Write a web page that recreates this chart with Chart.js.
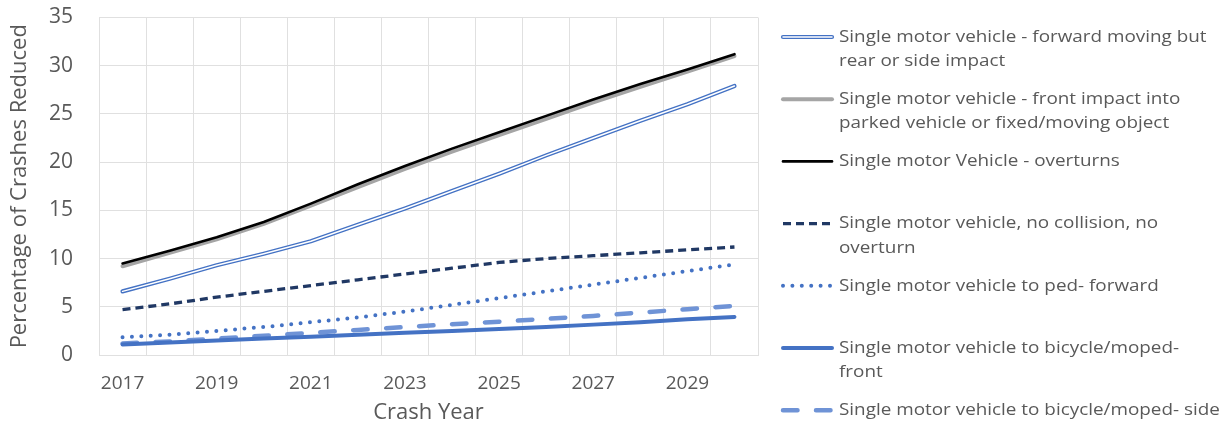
<!DOCTYPE html>
<html>
<head>
<meta charset="utf-8">
<script src="https://cdn.jsdelivr.net/npm/chart.js@4/dist/chart.umd.min.js"></script>
<style>
  html, body { margin: 0; padding: 0; background: #ffffff; }
  #wrap { width: 1232px; height: 430px; position: relative; }
</style>
</head>
<body>
<div id="wrap"><canvas id="c" width="1232" height="430"></canvas></div>
<script>
// Crash years on the horizontal axis
const years = ['2017', '2018', '2019', '2020', '2021', '2022', '2023', '2024', '2025', '2026', '2027', '2028', '2029', '2030'];

// Percentage of crashes reduced, one array per crash type
const forwardRearSide = [6.6, 7.9, 9.3, 10.5, 11.8, 13.5, 15.2, 17.0, 18.8, 20.7, 22.5, 24.3, 26.0, 27.9];
const frontImpact     = [9.2, 10.6, 12.0, 13.6, 15.5, 17.4, 19.3, 21.1, 22.8, 24.5, 26.2, 27.8, 29.4, 31.0];
const overturns       = [9.5, 10.8, 12.2, 13.8, 15.7, 17.7, 19.6, 21.4, 23.1, 24.8, 26.5, 28.1, 29.6, 31.2];
const noCollision     = [4.7, 5.3, 6.0, 6.6, 7.2, 7.8, 8.4, 9.0, 9.6, 10.0, 10.3, 10.6, 10.9, 11.2];
const pedForward      = [1.85, 2.1, 2.5, 2.9, 3.4, 3.9, 4.5, 5.2, 5.9, 6.6, 7.3, 8.0, 8.7, 9.4];
const bicycleFront    = [1.1, 1.3, 1.5, 1.7, 1.9, 2.1, 2.3, 2.5, 2.7, 2.9, 3.15, 3.4, 3.7, 3.95];
const bicycleSide     = [1.2, 1.4, 1.7, 2.0, 2.3, 2.6, 2.9, 3.2, 3.45, 3.75, 4.05, 4.4, 4.75, 5.1];

// Legend names, already broken into lines
const nameForwardRearSide = ['Single motor vehicle - forward moving but', 'rear or side impact'];
const nameFrontImpact     = ['Single motor vehicle - front impact into', 'parked vehicle or fixed/moving object'];
const nameOverturns       = ['Single motor Vehicle - overturns'];
const nameNoCollision     = ['Single motor vehicle, no collision, no', 'overturn'];
const namePedForward      = ['Single motor vehicle to ped- forward'];
const nameBicycleFront    = ['Single motor vehicle to bicycle/moped-', 'front'];
const nameBicycleSide     = ['Single motor vehicle to bicycle/moped- side'];

// Value axis
const yMin = 0, yMax = 35, yStep = 5;
const axisTitleY = 'Percentage of Crashes Reduced';
const axisTitleX = 'Crash Year';

const TEXT = '#595959';
const GRID = '#e0e0e0';
const FONT = "'Open Sans', 'Noto Sans', sans-serif";

const line = (extra) => Object.assign({
  type: 'line',
  pointRadius: 0,
  pointHoverRadius: 0,
  fill: false,
  tension: 0,
  borderJoinStyle: 'round',
  borderCapStyle: 'round'
}, extra);

const datasets = [
  // white core drawn on top of the blue stroke gives the double line
  line({ label: 'core', data: forwardRearSide, borderColor: '#ffffff', borderWidth: 1.5, order: 0, overlayFor: 1 }),
  line({ label: nameForwardRearSide.join(' '), legendLines: nameForwardRearSide, data: forwardRearSide, borderColor: '#4472c4', borderWidth: 4.2, order: 1 }),
  line({ label: nameFrontImpact.join(' '), legendLines: nameFrontImpact, data: frontImpact, borderColor: '#a5a5a5', borderWidth: 4, order: 3 }),
  line({ label: nameOverturns.join(' '), legendLines: nameOverturns, data: overturns, borderColor: '#000000', borderWidth: 2.6, order: 2 }),
  line({ label: nameNoCollision.join(' '), legendLines: nameNoCollision, data: noCollision, borderColor: '#203864', borderWidth: 3.3, borderDash: [8, 5], borderCapStyle: 'butt', order: 4 }),
  line({ label: namePedForward.join(' '), legendLines: namePedForward, data: pedForward, borderColor: '#4472c4', borderWidth: 4, borderDash: [0, 9.4], order: 5 }),
  line({ label: nameBicycleFront.join(' '), legendLines: nameBicycleFront, data: bicycleFront, borderColor: '#4472c4', borderWidth: 4, order: 6 }),
  line({ label: nameBicycleSide.join(' '), legendLines: nameBicycleSide, data: bicycleSide, borderColor: '#6f93d6', borderWidth: 4.5, borderDash: [14.5, 18.5], order: 7 })
];

// Legend at the right: one fixed-height row per series, swatch + wrapped name
const sideLegend = {
  id: 'sideLegend',
  afterDraw(chart, args, opts) {
    const ctx = chart.ctx;
    const all = chart.data.datasets;
    ctx.save();
    ctx.font = opts.fontSize + 'px ' + FONT;
    ctx.fillStyle = TEXT;
    ctx.textBaseline = 'middle';
    ctx.textAlign = 'left';
    let row = 0;
    const stroke = (ds, y) => {
      ctx.save();
      ctx.strokeStyle = ds.borderColor;
      ctx.lineWidth = ds.borderWidth;
      ctx.lineCap = ds.borderCapStyle || 'butt';
      ctx.setLineDash(ds.borderDash || []);
      ctx.beginPath();
      ctx.moveTo(opts.x0, y);
      ctx.lineTo(opts.x1, y);
      ctx.stroke();
      ctx.restore();
    };
    all.forEach((ds, i) => {
      if (!ds.legendLines) return;
      const y = opts.top + row * opts.rowHeight;
      stroke(ds, y);
      all.forEach(o => { if (o.overlayFor === i) stroke(o, y); });
      ds.legendLines.forEach((t, k) => {
        ctx.save();
        ctx.translate(opts.textX, y + k * opts.lineHeight);
        ctx.scale(opts.stretch, 1);
        ctx.fillText(t, 0, 0);
        ctx.restore();
      });
      row++;
    });
    ctx.restore();
  }
};

new Chart(document.getElementById('c'), {
  type: 'line',
  data: { labels: years, datasets },
  plugins: [sideLegend],
  options: {
    responsive: false,
    animation: false,
    layout: { padding: { left: 0, right: 474, top: 17.5, bottom: 0 } },
    plugins: {
      legend: { display: false },
      tooltip: { enabled: false },
      sideLegend: { x0: 783, x1: 832, textX: 839, top: 37, rowHeight: 62.2, lineHeight: 24.3, fontSize: 17, stretch: 1.11 }
    },
    scales: {
      x: {
        type: 'category',
        offset: true,
        grid: { offset: true, color: GRID, lineWidth: 1, drawTicks: false },
        border: { color: GRID },
        ticks: {
          color: TEXT,
          font: { family: FONT, size: 19 },
          padding: 17,
          autoSkip: false,
          maxRotation: 0,
          callback: function (v) { const y = Number(this.getLabelForValue(v)); return y % 2 === 1 ? String(y) : ''; }
        },
        title: { display: true, text: axisTitleX, color: TEXT, font: { family: FONT, size: 22 }, padding: { top: 0, bottom: 4 } },
        afterFit(scale) { scale.height = 75; scale.paddingLeft = 0; scale.paddingRight = 0; }
      },
      y: {
        min: yMin,
        max: yMax,
        grid: { color: GRID, lineWidth: 1, drawTicks: false },
        border: { color: GRID },
        ticks: { stepSize: yStep, color: TEXT, font: { family: FONT, size: 21 }, padding: 26 },
        title: { display: true, text: axisTitleY, color: TEXT, font: { family: FONT, size: 22 }, padding: { top: 7, bottom: 0 } },
        afterFit(scale) { scale.width = 99; scale.paddingTop = 0; scale.paddingBottom = 0; }
      }
    }
  }
});
</script>
</body>
</html>
